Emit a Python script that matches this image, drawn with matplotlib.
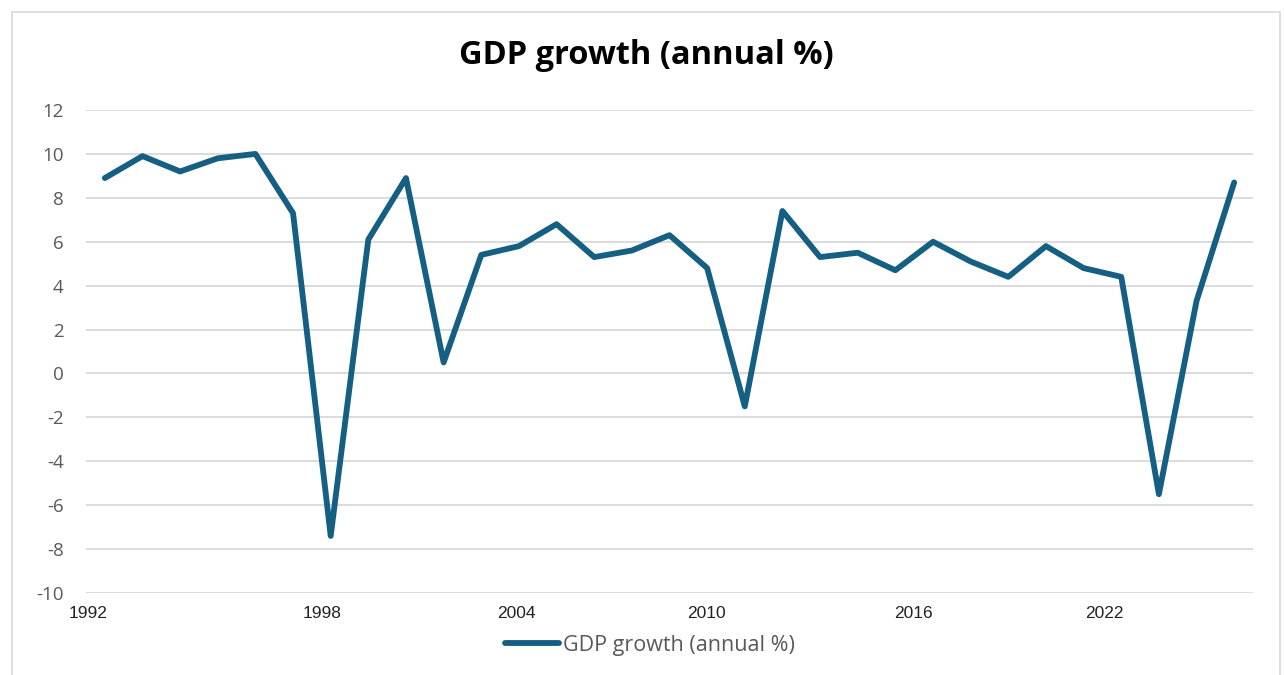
import numpy as np
import matplotlib as mpl
mpl.use("Agg")
import matplotlib.pyplot as plt
from matplotlib.patches import Rectangle

# GDP growth (annual %), one value per year
years = list(range(1992, 2023))
growth = [8.9, 9.9, 9.2, 9.8, 10.0, 7.3, -7.4, 6.1, 8.9, 0.5,
          5.4, 5.8, 6.8, 5.3, 5.6, 6.3, 4.8, -1.5, 7.4, 5.3,
          5.5, 4.7, 6.0, 5.1, 4.4, 5.8, 4.8, 4.4, -5.5, 3.3, 8.7]
tick_labels = ["1992", "1998", "2004", "2010", "2016", "2022"]
tick_pos = [1991.56, 1997.78, 2002.94, 2007.98, 2013.48, 2018.55]
yticks = list(range(-10, 13, 2))

W, H = 1284, 675
fig = plt.figure(figsize=(W/100, H/100), dpi=100)
ax = fig.add_axes([86/W, 1-593/H, (1253-86)/W, (593-110)/H])

line_col = '#156082'
ax.plot(years, growth, color=line_col, lw=4.2, solid_joinstyle='round',
        solid_capstyle='round', label='GDP growth (annual %)')

ax.set_xlim(1991.5, 2022.5)
ax.set_ylim(-10, 12)
ax.set_yticks(yticks)
ax.set_yticklabels([str(v) for v in yticks], fontsize=13.5, color='#595959',
                   family=['Open Sans', 'DejaVu Sans'])
ax.set_xticks(tick_pos)
ax.set_xticklabels(tick_labels, fontsize=12.5, color='#222222',
                   family=['Liberation Sans', 'DejaVu Sans'])
ax.tick_params(axis='both', length=0)
ax.tick_params(axis='y', pad=16)
ax.tick_params(axis='x', pad=9)
ax.grid(axis='y', color='#d9d9d9', lw=1.3)
ax.set_axisbelow(True)
for s in ax.spines.values():
    s.set_visible(False)

fig.text(646/W, 1-56/H, 'GDP growth (annual %)', ha='center', va='center',
         fontsize=23.5, fontweight='bold', family=['Open Sans', 'DejaVu Sans'])

leg = fig.legend(loc='center', bbox_to_anchor=(650/W, 1-645/H), frameon=False,
                 handlelength=2.5, handletextpad=0.2,
                 prop={'family': ['Open Sans', 'DejaVu Sans'], 'size': 15.5})
for t in leg.get_texts():
    t.set_color('#595959')

fig.patches.append(Rectangle((12/W, -0.01), (1280-12)/W, 1-12/H+0.01,
                             transform=fig.transFigure, fill=False,
                             edgecolor='#d9d9d9', lw=1.2))

fig.savefig('out.png', dpi=100)
